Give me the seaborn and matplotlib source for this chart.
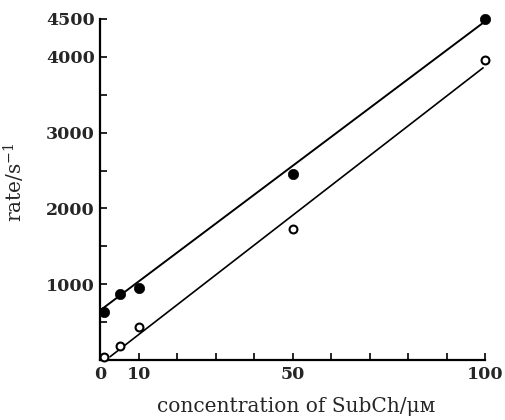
import matplotlib
matplotlib.use("Agg")
import matplotlib.pyplot as plt
import seaborn as sns
import numpy as np
import pandas as pd

# data
conc = [1, 5, 10, 50, 100]
rate_filled = [630, 865, 945, 2460, 4500]
rate_open = [45, 185, 435, 1735, 3965]

# fitted lines (intercept, slope, x-range) as drawn in the reference
fit_filled = dict(intercept=658, slope=38.1, x0=0, x1=99.5)
fit_open = dict(intercept=-55, slope=39.3, x0=2.5, x1=99.5)

yticks = [500, 1000, 1500, 2000, 2500, 3000, 3500, 4000, 4500]
ytick_labels = ["", "1000", "", "2000", "", "3000", "", "4000", "4500"]
xticks = [0, 10, 20, 30, 40, 50, 60, 70, 80, 90, 100]
xtick_labels = ["0", "10", "", "", "", "50", "", "", "", "", "100"]

sns.set_style("ticks")
plt.rcParams["font.family"] = ["DejaVu Serif", "DejaVu Sans"]
plt.rcParams["mathtext.fontset"] = "dejavuserif"

fig = plt.figure(figsize=(5.06, 4.2), dpi=100)
ax = fig.add_axes([0.1986, 0.1429, 0.7599, 0.8119])

def line_df(p):
    xs = np.array([p["x0"], p["x1"]])
    return pd.DataFrame({"x": xs, "y": p["intercept"] + p["slope"] * xs})

sns.lineplot(data=line_df(fit_filled), x="x", y="y", ax=ax, color="black", lw=1.4)
sns.lineplot(data=line_df(fit_open), x="x", y="y", ax=ax, color="black", lw=1.2)

sns.scatterplot(x=conc, y=rate_filled, ax=ax, color="black", s=55, edgecolor="black",
                linewidth=0.5, zorder=5, clip_on=False)
sns.scatterplot(x=conc, y=rate_open, ax=ax, color="white", s=32, edgecolor="black",
                linewidth=1.5, zorder=5, clip_on=False)

ax.set_xlim(0, 100)
ax.set_ylim(0, 4500)
ax.set_xticks(xticks)
ax.set_xticklabels(xtick_labels, fontsize=12.5, fontweight="bold")
ax.set_yticks(yticks)
ax.set_yticklabels(ytick_labels, fontsize=12.5, fontweight="bold")
ax.tick_params(direction="in", length=5, width=1.2, color="black", pad=4)

for s in ["top", "right"]:
    ax.spines[s].set_visible(False)
for s in ["left", "bottom"]:
    ax.spines[s].set_linewidth(1.6)
    ax.spines[s].set_color("black")

ax.set_xlabel("concentration of SubCh/μᴍ", fontsize=14.5)
ax.set_ylabel("rate/s$^{-1}$", fontsize=14.5)
ax.xaxis.set_label_coords(0.51, -0.108)
ax.yaxis.set_label_coords(-0.19, 0.52)

fig.savefig("out.png", dpi=100)
